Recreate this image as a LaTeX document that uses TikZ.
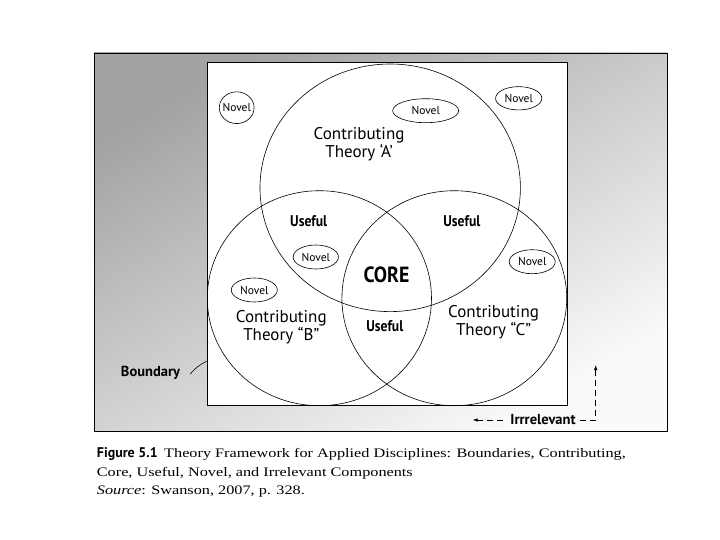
\documentclass[tikz,border=0pt]{standalone}
\usepackage{fontspec}
\setmainfont[FakeStretch=1.25]{Liberation Serif}
\newfontfamily\labfont{PT Sans}
\newfontfamily\condfont[FakeStretch=0.88]{PT Sans}
\newfontfamily\corefont[FakeStretch=0.9]{PT Sans}
\usetikzlibrary{shapes.geometric,arrows.meta}
\begin{document}
\begin{tikzpicture}[x=1pt,y=-1pt,
  venn/.style={draw, ellipse, inner sep=0pt, line width=0.6pt},
  novtext/.style={inner sep=0pt, font=\labfont\fontsize{11.5}{12}\selectfont},
  novel/.style={draw, ellipse, inner sep=0pt, line width=0.6pt, label={[novtext]center:Novel}},
  theory/.style={align=center, inner sep=0pt, font=\labfont\fontsize{17}{18.3}\selectfont},
  useful/.style={inner sep=0pt, font=\condfont\bfseries\fontsize{15.5}{16}\selectfont},
  side/.style={inner sep=0pt, font=\labfont\bfseries\fontsize{14.5}{16}\selectfont},
  core/.style={inner sep=0pt, font=\corefont\bfseries\fontsize{22}{24}\selectfont},
  caption/.style={anchor=west, inner sep=0pt, font=\fontsize{13}{14}\selectfont},
  dasharrow/.style={line width=0.6pt, dash pattern=on 6pt off 4pt, -{Latex[length=5pt,width=3.5pt]}}
]
\useasboundingbox (0,0) rectangle (720,540);
% gray panel
\shade[top color=black!36, bottom color=black!2, shading angle=30] (94,53) rectangle (667,431);
\draw[line width=0.9pt] (94,53) rectangle (667,431);
% white frame
\node[draw, fill=white, line width=0.9pt, inner sep=0pt, minimum width=360.2pt, minimum height=343pt] (frame) at (387.4,234.2) {};
% circles
\node[venn, minimum width=260.4pt, minimum height=247.6pt] (A) at (390.2,187.8) {};
\node[venn, minimum width=224.2pt, minimum height=215pt] (B) at (319.4,298.2) {};
\node[venn, minimum width=224.8pt, minimum height=215pt] (C) at (454.3,298.2) {};
% novel ellipses
\node[novel, minimum width=34.8pt, minimum height=31.7pt] (n1) at (236.7,107.7) {};
\node[novel, minimum width=66pt, minimum height=24pt] (n2) at (425.7,110.7) {};
\node[novel, minimum width=46.3pt, minimum height=23.3pt] (n3) at (518.7,98.3) {};
\node[novel, minimum width=45.3pt, minimum height=24pt] (n4) at (315.8,257) {};
\node[novel, minimum width=46pt, minimum height=24pt] (n5) at (254.3,290) {};
\node[novel, minimum width=46pt, minimum height=24pt] (n6) at (532.2,261.7) {};
% labels
\node[theory] (tA) at (359.1,144.2) {Contributing\\Theory ‘A’};
\node[theory] (tB) at (281.3,327.5) {Contributing\\Theory “B”};
\node[theory] (tC) at (493.6,322.2) {Contributing\\Theory “C”};
\node[useful] (uAB) at (308.7,220.7) {Useful};
\node[useful] (uAC) at (461.9,220.7) {Useful};
\node[useful] (uBC) at (384.8,326) {Useful};
\node[core] (core) at (386.5,274.3) {CORE};
% boundary
\node[side] (bnd) at (150.5,373) {Boundary};
\coordinate (bt) at (207.3,361);
\draw[line width=0.6pt] ([xshift=10pt,yshift=-1pt]bnd.east) to[bend left=12] (bt);
% irrelevant
\node[side] (irr) at (543,420) {Irrrelevant};
\coordinate (irrL) at (472.7,420);
\coordinate (irrC) at (595.7,420);
\coordinate (irrU) at (595.7,365);
\draw[dasharrow] ([xshift=-7pt]irr.west) -- (irrL);
\draw[dasharrow] ([xshift=4pt]irr.east) -- (irrC) -- (irrU);
% caption
\node[caption] (cap1) at (96.7,454) {{\labfont\bfseries\fontsize{14}{14}\selectfont Figure 5.1}\hspace{0.5em}Theory Framework for Applied Disciplines: Boundaries, Contributing,};
\node[caption] (cap2) at (96.7,473) {Core, Useful, Novel, and Irrelevant Components};
\node[caption] (cap3) at (96.7,491.5) {\textit{Source}: Swanson, 2007, p. 328.};
\end{tikzpicture}
\end{document}
